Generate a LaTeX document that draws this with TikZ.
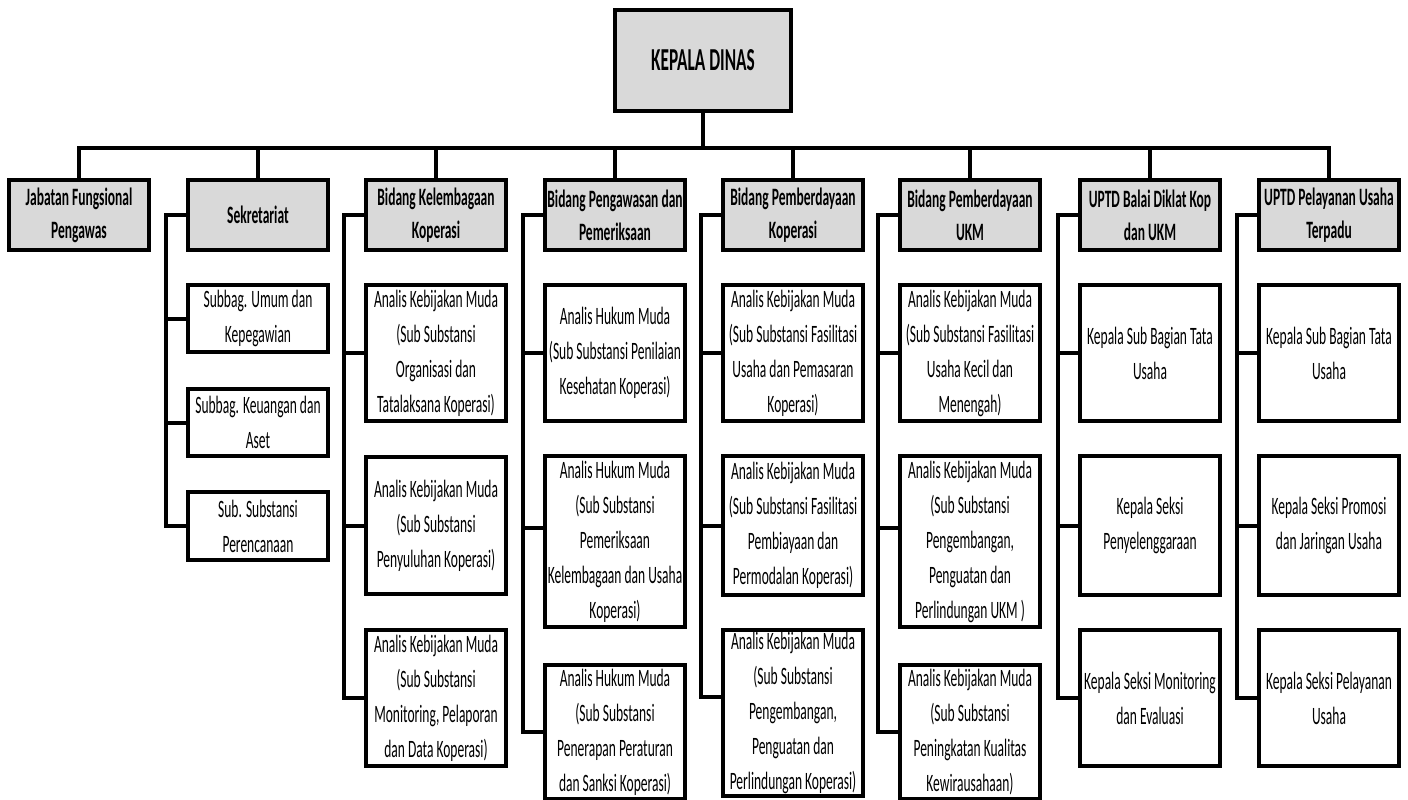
\documentclass[tikz,border=0pt]{standalone}
\usepackage{fontspec}
\setmainfont{Carlito}[FakeStretch=0.54]
\definecolor{boxgray}{HTML}{D9D9D9}
\tikzset{
    unitbox/.style={draw, line width=4pt, minimum width=140pt, inner sep=0pt, align=center,
        font=\fontsize{25}{35}\selectfont},
    headbox/.style={unitbox, fill=boxgray, minimum height=70pt,
        font=\bfseries\fontsize{25}{33}\selectfont},
    subbox/.style={unitbox, fill=white},
    conn/.style={line width=4pt}
}
\begin{document}
\begin{tikzpicture}[x=1pt,y=-1pt]
    \useasboundingbox (0,0) rectangle (1408,800);

    \node [headbox, minimum width=176pt, minimum height=101pt,
        font=\bfseries\fontsize{32}{38}\selectfont] (kd) at (703,60.5) {KEPALA DINAS};

    \foreach \n/\x/\t in {jf/79/{Jabatan Fungsional\\Pengawas},
                          sek/258/{Sekretariat},
                          kel/436/{Bidang Kelembagaan\\Koperasi},
                          pgw/615/{Bidang Pengawasan dan\\Pemeriksaan},
                          kop/793/{Bidang Pemberdayaan\\Koperasi},
                          ukm/970/{Bidang Pemberdayaan\\UKM},
                          dik/1150/{UPTD Balai Diklat Kop\\dan UKM},
                          pus/1329/{UPTD Pelayanan Usaha\\Terpadu}}
        {\node [headbox] (\n) at (\x,215) {\t};}

    \foreach \n in {jf,sek,kel,pgw,kop,ukm,dik,pus}
        {\draw [conn] (kd.south) -- ++(0,35) -| (\n.north);}

    \node [subbox, minimum height=67pt] (sek1) at (258,318.5) {Subbag. Umum dan\\Kepegawian};
    \node [subbox, minimum height=67pt] (sek2) at (258,422.5) {Subbag. Keuangan dan\\Aset};
    \node [subbox, minimum height=68pt] (sek3) at (258,526) {Sub. Substansi\\Perencanaan};

    \node [subbox, minimum height=136pt] (kel1) at (436,353) {Analis Kebijakan Muda\\(Sub Substansi\\Organisasi dan\\Tatalaksana Koperasi)};
    \node [subbox, minimum height=137pt] (kel2) at (436,525.5) {Analis Kebijakan Muda\\(Sub Substansi\\Penyuluhan Koperasi)};
    \node [subbox, minimum height=136pt] (kel3) at (436,698) {Analis Kebijakan Muda\\(Sub Substansi\\Monitoring, Pelaporan\\dan Data Koperasi)};

    \node [subbox, minimum height=136pt] (pgw1) at (615,353) {Analis Hukum Muda\\(Sub Substansi Penilaian\\Kesehatan Koperasi)};
    \node [subbox, minimum height=171pt] (pgw2) at (615,541.5) {Analis Hukum Muda\\(Sub Substansi\\Pemeriksaan\\Kelembagaan dan Usaha\\Koperasi)};
    \node [subbox, minimum height=134pt] (pgw3) at (615,732) {Analis Hukum Muda\\(Sub Substansi\\Penerapan Peraturan\\dan Sanksi Koperasi)};

    \node [subbox, minimum height=136pt] (kop1) at (793,353) {Analis Kebijakan Muda\\(Sub Substansi Fasilitasi\\Usaha dan Pemasaran\\Koperasi)};
    \node [subbox, minimum height=139pt] (kop2) at (793,525.5) {Analis Kebijakan Muda\\(Sub Substansi Fasilitasi\\Pembiayaan dan\\Permodalan Koperasi)};
    \node [subbox, minimum height=166pt] (kop3) at (793,713) {Analis Kebijakan Muda\\(Sub Substansi\\Pengembangan,\\Penguatan dan\\Perlindungan Koperasi)};

    \node [subbox, minimum height=136pt] (ukm1) at (970,353) {Analis Kebijakan Muda\\(Sub Substansi Fasilitasi\\Usaha Kecil dan\\Menengah)};
    \node [subbox, minimum height=171pt] (ukm2) at (970,541.5) {Analis Kebijakan Muda\\(Sub Substansi\\Pengembangan,\\Penguatan dan\\Perlindungan UKM )};
    \node [subbox, minimum height=134pt] (ukm3) at (970,732) {Analis Kebijakan Muda\\(Sub Substansi\\Peningkatan Kualitas\\Kewirausahaan)};

    \node [subbox, minimum height=136pt] (dik1) at (1150,353) {Kepala Sub Bagian Tata\\Usaha};
    \node [subbox, minimum height=139pt] (dik2) at (1150,525.5) {Kepala Seksi\\Penyelenggaraan};
    \node [subbox, minimum height=136pt] (dik3) at (1150,698) {Kepala Seksi Monitoring\\dan Evaluasi};

    \node [subbox, minimum height=136pt] (pus1) at (1329,353) {Kepala Sub Bagian Tata\\Usaha};
    \node [subbox, minimum height=139pt] (pus2) at (1329,525.5) {Kepala Seksi Promosi\\dan Jaringan Usaha};
    \node [subbox, minimum height=136pt] (pus3) at (1329,698) {Kepala Seksi Pelayanan\\Usaha};

    \foreach \n in {sek,kel,dik,pus}
        {\foreach \i in {1,2,3}
            {\draw [conn] (\n.west) -- ++(-20,0) |- (\n\i.west);}}
    \foreach \n in {pgw,ukm}
        {\draw [conn] (\n.west) -- ++(-20,0) |- (\n1.west);
         \draw [conn] (\n.west) -- ++(-20,0) |- ([yshift=13.5pt]\n2.west);
         \draw [conn] (\n.west) -- ++(-20,0) |- (\n3.west);}
    \draw [conn] (kop.west) -- ++(-20,0) |- (kop1.west);
    \draw [conn] (kop.west) -- ++(-20,0) |- (kop2.west);
    \draw [conn] (kop.west) -- ++(-20,0) |- ([yshift=16pt]kop3.west);
\end{tikzpicture}
\end{document}
